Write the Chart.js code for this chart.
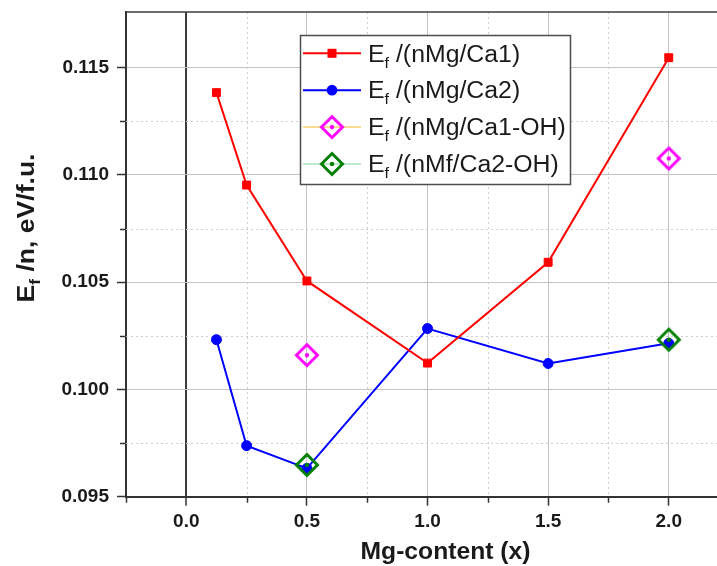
<!DOCTYPE html>
<html><head><meta charset="utf-8">
<script src="https://cdn.jsdelivr.net/npm/chart.js@4"></script>
<style>html,body{margin:0;padding:0;background:#fff;overflow:hidden}#wrap{position:relative;width:717px;height:566px}</style>
</head><body><div id="wrap"><canvas id="c" width="717" height="566"></canvas></div>
<script>
// ---- data ----
const mgContent = [0.125, 0.25, 0.5, 1.0, 1.5, 2.0];
const efCa1 = [0.11384, 0.10953, 0.10506, 0.10123, 0.10593, 0.11547];
const efCa2 = [0.10232, 0.09738, 0.09632, 0.10284, 0.10121, 0.10215];
const mgContentOH = [0.5, 2.0];
const efCa1OH = [0.10160, 0.11077];
const efCa2OH = [0.09648, 0.10232];
const seriesLabels = ['E_f /(nMg/Ca1)', 'E_f /(nMg/Ca2)', 'E_f /(nMg/Ca1-OH)', 'E_f /(nMf/Ca2-OH)'];
const xMajorTicks = [0.0, 0.5, 1.0, 1.5, 2.0];
const xMinorTicks = [-0.25, 0.25, 0.75, 1.25, 1.75];
const yMajorTicks = [0.095, 0.100, 0.105, 0.110, 0.115];
const yMinorTicks = [0.0975, 0.1025, 0.1075, 0.1125];
const xTitle = 'Mg-content (x)';
const yTitle = 'E_f /n, eV/f.u.';

const FONT = '"Liberation Sans", Arial, sans-serif';

function makeDiamond(color){
  const c = document.createElement('canvas');
  c.width = 28; c.height = 28;
  const g = c.getContext('2d');
  g.strokeStyle = color; g.lineWidth = 3; g.lineJoin = 'miter';
  g.beginPath();
  g.moveTo(14, 3.5); g.lineTo(24.5, 14); g.lineTo(14, 24.5); g.lineTo(3.5, 14); g.closePath();
  g.stroke();
  g.fillStyle = color;
  g.beginPath(); g.arc(14, 14, 2.2, 0, Math.PI*2); g.fill();
  return c;
}
const pts = (xs, ys) => xs.map((x, i) => ({x, y: ys[i]}));

const datasets = [
  {label: seriesLabels[0], data: pts(mgContent, efCa1), borderColor:'#ff0000', backgroundColor:'#ff0000',
   borderWidth:2, pointStyle:'rect', pointRadius:5.6, pointBorderWidth:1, showLine:true, order:0,
   legendLineColor:'#ff0000', legendLineWidth:2},
  {label: seriesLabels[1], data: pts(mgContent, efCa2), borderColor:'#0000ff', backgroundColor:'#0000ff',
   borderWidth:2, pointStyle:'circle', pointRadius:5, pointBorderWidth:1, showLine:true, order:0,
   legendLineColor:'#0000ff', legendLineWidth:2},
  {label: seriesLabels[2], data: pts(mgContentOH, efCa1OH), borderColor:'#ff00ff', backgroundColor:'#ff00ff',
   pointStyle: makeDiamond('#ff00ff'), pointRadius:12, showLine:false, order:-1,
   legendLineColor:'#f8cf6e', legendLineWidth:1.5},
  {label: seriesLabels[3], data: pts(mgContentOH, efCa2OH), borderColor:'#008000', backgroundColor:'#008000',
   pointStyle: makeDiamond('#008000'), pointRadius:12, showLine:false, order:-1,
   legendLineColor:'#a6e2b8', legendLineWidth:1.5}
];

function segs(s){
  const m = s.match(/^(.*?)_(.)(.*)$/);
  return m ? [{t:m[1]},{t:m[2],sub:true},{t:m[3]}] : [{t:s}];
}
function richWidth(ctx, parts, size, subSize, weight){
  let w = 0;
  parts.forEach(p => { ctx.font = `${weight} ${p.sub?subSize:size}px ${FONT}`; w += ctx.measureText(p.t).width; });
  return w;
}
function drawRich(ctx, parts, x, y, size, subSize, subOff, weight){
  let cx = x;
  ctx.textAlign = 'left'; ctx.textBaseline = 'alphabetic';
  parts.forEach(p => {
    ctx.font = `${weight} ${p.sub?subSize:size}px ${FONT}`;
    ctx.fillText(p.t, cx, y + (p.sub ? subOff : 0));
    cx += ctx.measureText(p.t).width;
  });
}

const decor = {
  id: 'decor',
  beforeDatasetsDraw(chart){
    const {ctx, chartArea: a, scales: {x, y}} = chart;
    const line = (x1,y1,x2,y2) => { ctx.beginPath(); ctx.moveTo(x1,y1); ctx.lineTo(x2,y2); ctx.stroke(); };
    ctx.save();
    ctx.strokeStyle = '#cdcdcd'; ctx.lineWidth = 1; ctx.setLineDash([2,3]);
    xMinorTicks.forEach(v => { if (v <= x.min) return; const px = Math.round(x.getPixelForValue(v)) + 0.5; line(px, a.top, px, a.bottom); });
    yMinorTicks.forEach(v => { const py = Math.round(y.getPixelForValue(v)) + 0.5; line(a.left, py, a.right, py); });
    ctx.setLineDash([]);
    ctx.strokeStyle = '#3c3c3c'; ctx.lineWidth = 1.5;
    line(a.left, a.top, a.right, a.top);
    ctx.strokeStyle = '#333'; ctx.lineWidth = 1.5;
    xMinorTicks.forEach(v => { const px = Math.round(x.getPixelForValue(v)) + 0.5; line(px, a.bottom, px, a.bottom + 6); });
    yMinorTicks.forEach(v => { const py = Math.round(y.getPixelForValue(v)) + 0.5; line(a.left - 6, py, a.left, py); });
    ctx.restore();
  },
  afterDraw(chart){
    const ctx = chart.ctx;
    ctx.save();
    ctx.fillStyle = '#1a1a1a';
    // x title
    ctx.font = `bold 23px ${FONT}`;
    const xw = ctx.measureText(xTitle).width;
    ctx.save();
    ctx.translate(445.5, 558.5);
    ctx.scale(170 / xw, 1);
    ctx.textAlign = 'center'; ctx.textBaseline = 'alphabetic';
    ctx.fillText(xTitle, 0, 0);
    ctx.restore();
    // y title
    const yp = segs(yTitle);
    const yw = richWidth(ctx, yp, 23, 15, 'bold');
    ctx.save();
    ctx.translate(33.5, 228);
    ctx.rotate(-Math.PI/2);
    ctx.scale(149 / yw, 1);
    drawRich(ctx, yp, -yw/2, 0, 23, 15, 6, 'bold');
    ctx.restore();
    // legend
    const bx = 300.5, by = 35.5, bw = 270, bh = 149;
    ctx.fillStyle = '#fff'; ctx.fillRect(bx, by, bw, bh);
    ctx.strokeStyle = '#4d4d4d'; ctx.lineWidth = 1.5; ctx.strokeRect(bx, by, bw, bh);
    chart.data.datasets.forEach((ds, i) => {
      const cy = 53.3 + i * 36.9;
      ctx.strokeStyle = ds.legendLineColor; ctx.lineWidth = ds.legendLineWidth;
      ctx.beginPath(); ctx.moveTo(303, cy); ctx.lineTo(361, cy); ctx.stroke();
      const mx = 332;
      ctx.fillStyle = ds.backgroundColor;
      if (ds.pointStyle instanceof HTMLCanvasElement) {
        ctx.drawImage(ds.pointStyle, mx - 14, cy - 14);
      } else if (ds.pointStyle === 'rect') {
        ctx.fillRect(mx - 4.5, cy - 4.5, 9, 9);
      } else {
        ctx.beginPath(); ctx.arc(mx, cy, 5.4, 0, Math.PI*2); ctx.fill();
      }
      ctx.fillStyle = '#1a1a1a';
      const parts = segs(ds.label);
      ctx.save();
      ctx.translate(368, cy + 8.2);
      ctx.scale(1.08, 1);
      drawRich(ctx, parts, 0, 0, 23, 15, 6, 'normal');
      ctx.restore();
    });
    ctx.restore();
  }
};

new Chart(document.getElementById('c'), {
  type: 'scatter',
  data: { datasets },
  options: {
    responsive: false, animation: false, devicePixelRatio: 1,
    layout: { autoPadding: false, padding: { top: 12, left: 0, right: 0, bottom: 0 } },
    plugins: { legend: { display: false }, tooltip: { enabled: false } },
    scales: {
      x: {
        type: 'linear', min: -0.25, max: 2.2,
        afterBuildTicks: s => { s.ticks = xMajorTicks.map(v => ({value: v})); },
        afterFit: s => { s.height = 69.3; s.paddingLeft = 0; s.paddingRight = 0; },
        grid: {
          color: c => (c.tick && c.tick.value === 0) ? '#3c3c3c' : '#c4c4c4',
          lineWidth: c => (c.tick && c.tick.value === 0) ? 2 : 1,
          tickColor: '#333', tickWidth: 1.5, tickLength: 9
        },
        border: { color: '#333', width: 2 },
        ticks: { font: { family: FONT, size: 19, weight: 'bold' }, color: '#1a1a1a', padding: 5,
                 maxRotation: 0, autoSkip: false, callback: v => Number(v).toFixed(1) }
      },
      y: {
        type: 'linear', min: 0.095, max: 0.1176,
        afterBuildTicks: s => { s.ticks = yMajorTicks.map(v => ({value: v})); },
        afterFit: s => { s.width = 126; s.paddingTop = 0; s.paddingBottom = 0; },
        grid: { color: '#c4c4c4', lineWidth: 1, tickColor: '#333', tickWidth: 1.5, tickLength: 9 },
        border: { color: '#333', width: 2 },
        ticks: { font: { family: FONT, size: 19, weight: 'bold' }, color: '#1a1a1a', padding: 8,
                 autoSkip: false, callback: v => Number(v).toFixed(3) }
      }
    }
  },
  plugins: [decor]
});
</script>
</body></html>
